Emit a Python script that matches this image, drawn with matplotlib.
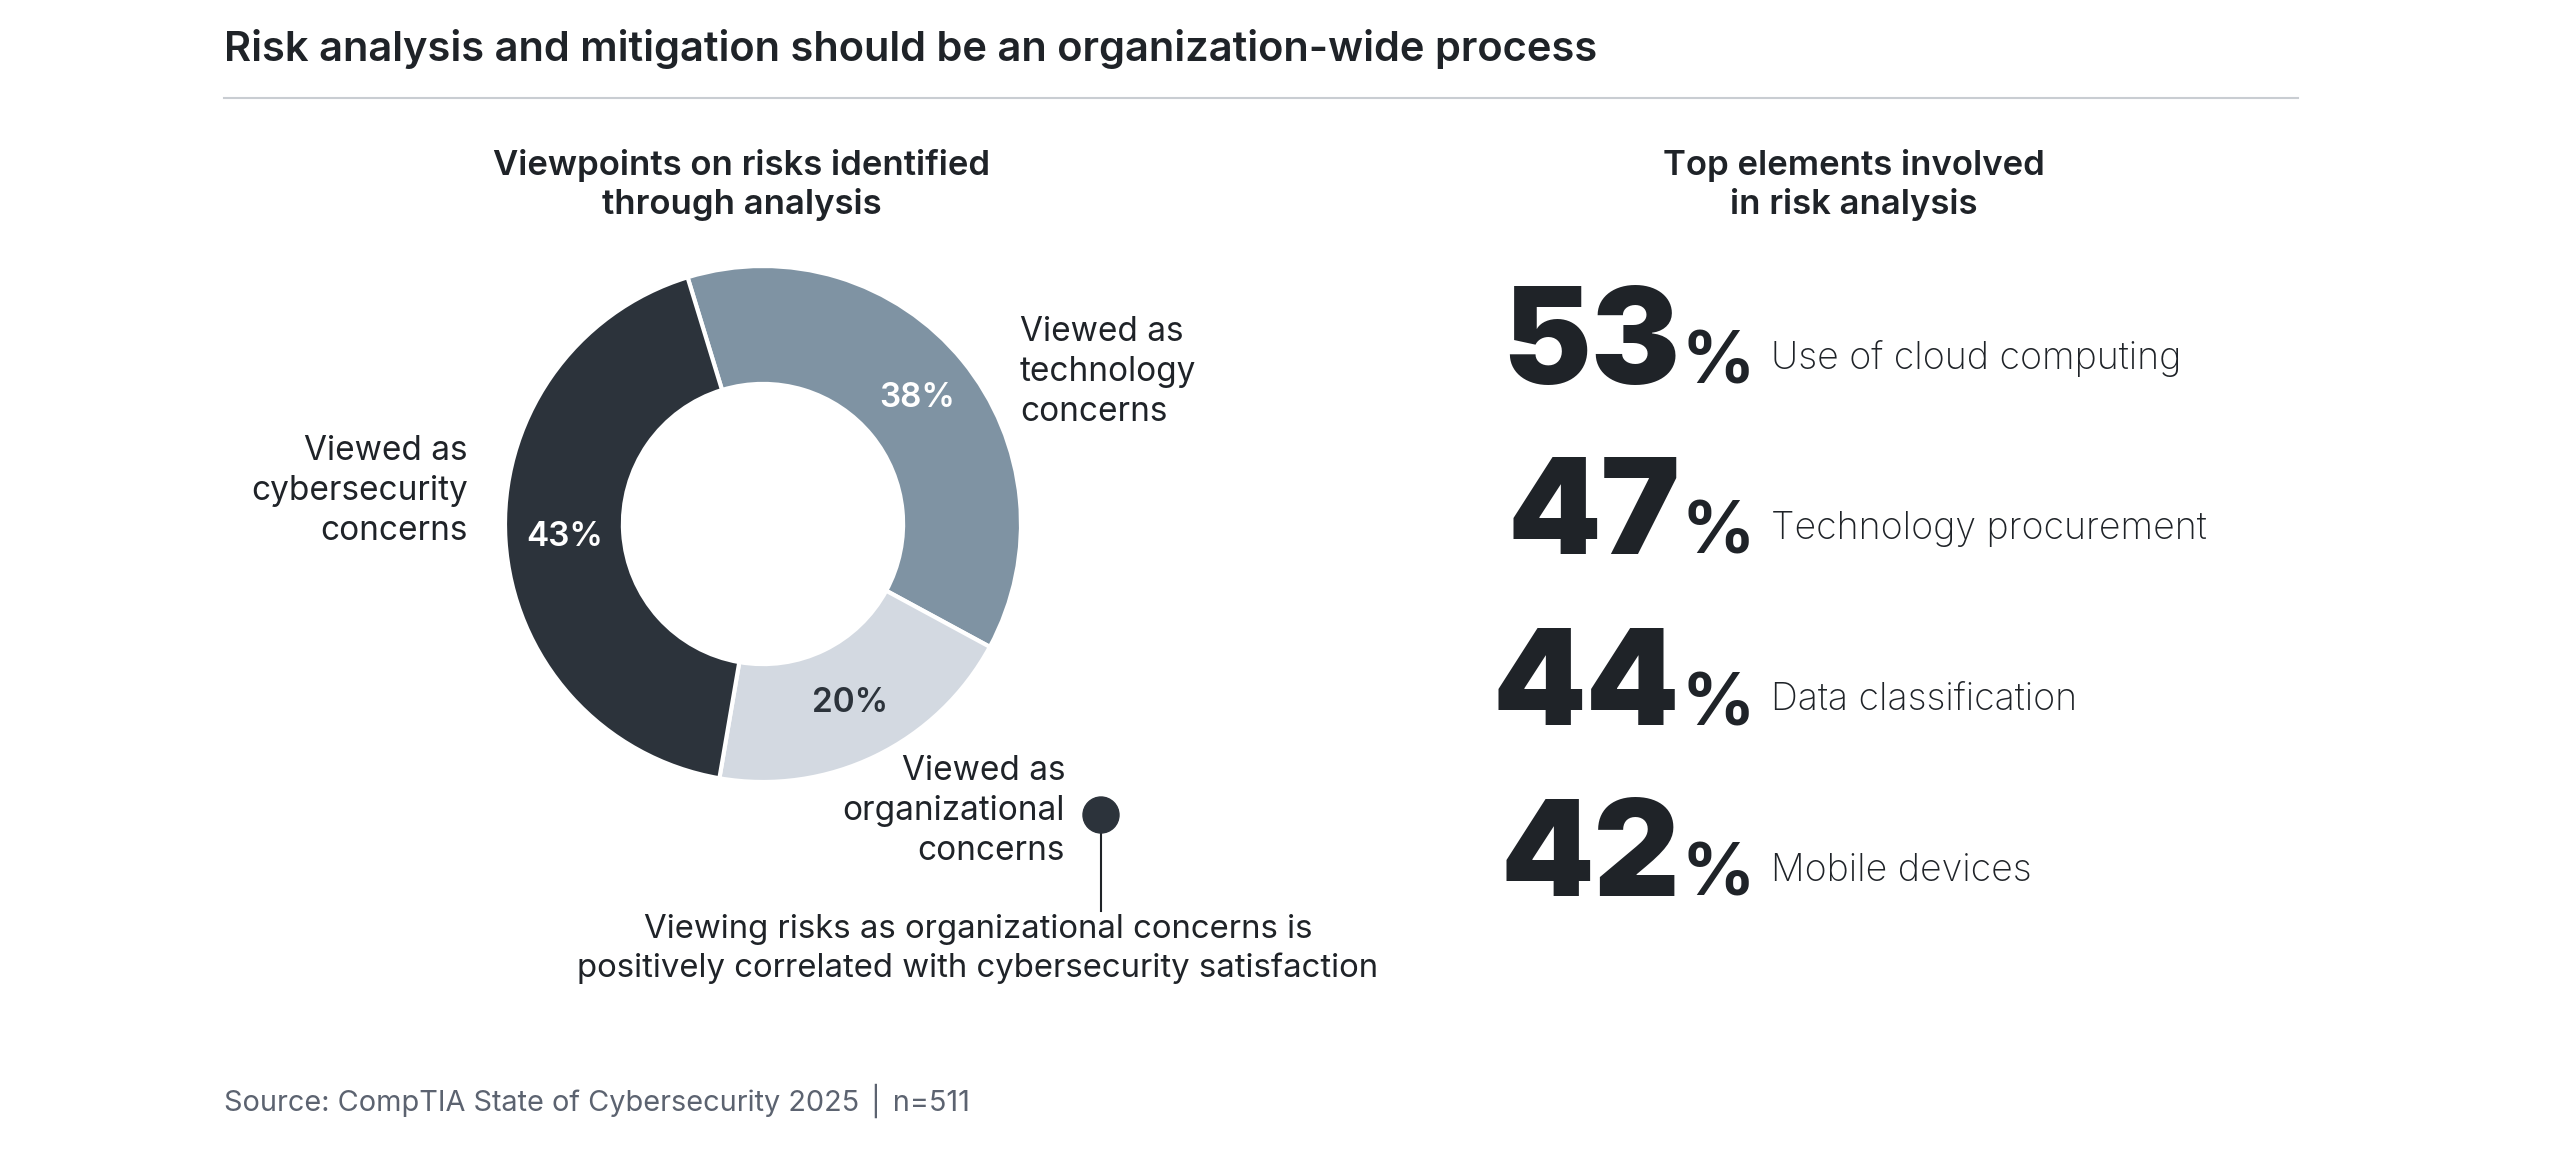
import matplotlib
matplotlib.use("Agg")
import matplotlib.pyplot as plt
from matplotlib.patches import Circle
import numpy as np

plt.rcParams['font.family'] = ['Inter', 'DejaVu Sans']

# ---------------- data ----------------
title = "Risk analysis and mitigation should be an organization-wide process"
left_subtitle = "Viewpoints on risks identified\nthrough analysis"
right_subtitle = "Top elements involved\nin risk analysis"

donut_labels = ["Viewed as\ntechnology\nconcerns", "Viewed as\norganizational\nconcerns", "Viewed as\ncybersecurity\nconcerns"]
donut_values = [38, 20, 43]
donut_colors = ["#7f93a3", "#d3d9e1", "#2c333b"]
donut_pct_colors = ["white", "#2c333b", "white"]

element_labels = ["Use of cloud computing", "Technology procurement", "Data classification", "Mobile devices"]
element_values = [53, 47, 44, 42]

note_text = "Viewing risks as organizational concerns is\npositively correlated with cybersecurity satisfaction"
source_text = "Source: CompTIA State of Cybersecurity 2025 \u2502 n=511"

TXT = "#1f2328"
W, H = 2550, 1159

fig = plt.figure(figsize=(W / 100, H / 100), dpi=100)
fig.patch.set_facecolor("white")

# overlay axes in pixel coordinates (y downward)
ax = fig.add_axes([0, 0, 1, 1])
ax.set_xlim(0, W)
ax.set_ylim(H, 0)
ax.axis("off")

# title + rule
ax.text(224, 61, title, fontsize=30, fontweight="semibold", color=TXT, va="baseline", ha="left")
ax.plot([224, 2298], [98, 98], color="#c9cdd2", lw=1.5)

# subtitles
ax.text(742, 185, left_subtitle, fontsize=25, fontweight="semibold", color=TXT,
        ha="center", va="center", linespacing=1.25)
ax.text(1854, 185, right_subtitle, fontsize=25, fontweight="semibold", color=TXT,
        ha="center", va="center", linespacing=1.25)

# ---------------- donut ----------------
cx, cy, R = 763, 524, 258
dax = fig.add_axes([(cx - R) / W, 1 - (cy + R) / H, 2 * R / W, 2 * R / H])
wedges, _ = dax.pie(donut_values, colors=donut_colors, startangle=107, counterclock=False,
                    radius=1, wedgeprops=dict(width=0.457, edgecolor="white", linewidth=3))
dax.set_xlim(-1, 1)
dax.set_ylim(-1, 1)
dax.set_aspect("equal")
dax.axis("off")
for w, v, pc in zip(wedges, donut_values, donut_pct_colors):
    ang = np.deg2rad((w.theta1 + w.theta2) / 2)
    dax.text(0.77 * np.cos(ang), 0.77 * np.sin(ang), f"{v}%", ha="center", va="center",
             fontsize=24, fontweight="semibold", color=pc)

# donut category labels
LS = 1.31
ax.text(1020, 372, donut_labels[0], fontsize=24, color=TXT, ha="left", va="center", linespacing=LS)
ax.text(1065, 811, donut_labels[1], fontsize=24, color=TXT, ha="right", va="center", linespacing=LS)
ax.text(468, 491, donut_labels[2], fontsize=24, color=TXT, ha="right", va="center", linespacing=LS)

# callout
ax.add_patch(Circle((1101, 815), 18, color="#2c333b", zorder=3))
ax.plot([1101, 1101], [815, 911], color=TXT, lw=1.5)
ax.text(978, 949, note_text, fontsize=23.7, color=TXT, ha="center", va="center", linespacing=1.31)

# ---------------- big numbers ----------------
baselines = [384, 554, 725, 896]
for yb, val, lab in zip(baselines, element_values, element_labels):
    ax.text(1680, yb, f"{val}", fontsize=96, fontweight="black", color=TXT,
            ha="right", va="baseline")
    ax.text(1681, yb, "%", fontsize=52, fontweight="bold", color=TXT, ha="left", va="baseline")
    ax.text(1771, yb - 15, lab, fontsize=27, fontweight="light", color=TXT, ha="left", va="baseline")

# source
ax.text(224, 1101, source_text, fontsize=20.8, color="#5c6370", ha="left", va="center")

fig.savefig("out.png", dpi=100, facecolor="white")
